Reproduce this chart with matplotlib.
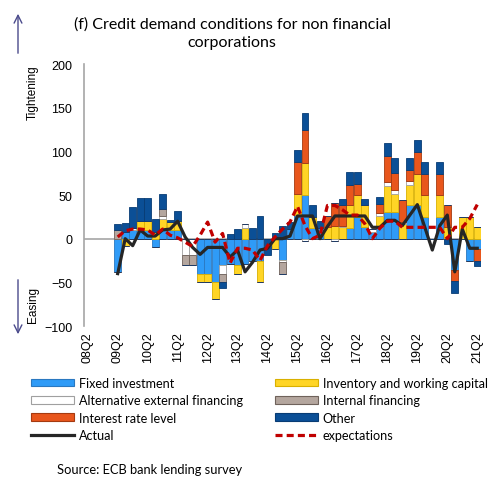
import numpy as np
import matplotlib
matplotlib.use("Agg")
import matplotlib.pyplot as plt
from matplotlib.patches import Patch
from matplotlib.lines import Line2D

# =========================
# DATA (net percentages, 09Q2 .. 21Q2)
# =========================

quarters = [f"{y:02d}Q{q}" for y in range(8, 22) for q in range(1, 5)]
quarters = quarters[quarters.index("08Q2"):quarters.index("21Q2") + 1]
first_quarter = "09Q2"
tick_labels = [q for q in quarters if q.endswith("Q2")]

fixed_investment = [-38, 8, 10, 10, 10, -10, 10, 10, 10, 0, 0, -40, -40, -50, -30, -29,
                    -30, -29, -26, -26, 0, 0, -24, 11, 27, 50, 12, 12, 0, 0, 0, 12, 25,
                    13, 8, 15, 30, 30, 0, 38, 38, 25, 0, 25, 0, -36, 0, -25, -12]
inventory = [0, -8, 0, 10, 10, 8, 12, 9, 10, 0, 0, -10, -10, -19, 0, 0,
             -10, 12, 0, -24, 0, -12, 0, 0, 24, 37, 13, 0, 13, 14, 13, 26, 25,
             25, 0, 11, 30, 21, 17, 24, 36, 25, 0, 25, 13, 0, 25, 25, 13]
alt_external = [0, 0, 2, 0, 0, 0, 4, 0, 0, -19, -19, 0, 0, 0, -10, 0,
                0, 5, 0, 0, 0, 0, -3, 0, 0, -3, 0, 0, 0, -3, 2, 0, 0,
                0, 3, 3, 5, 5, 2, 4, 0, 0, 0, 0, 0, 0, 0, 0, 0]
internal_fin = [10, 0, 0, 0, 0, 0, 8, 0, 0, -11, -11, 0, 0, 0, -10, 0,
                0, 0, 0, 0, 0, 0, -13, 0, 0, 0, 0, 0, 0, 0, 0, 0, 0,
                0, 0, 0, 0, 0, 0, 0, 0, 0, 0, 0, 0, 0, 0, 0, 0]
interest_rate = [0, 0, 0, 0, 0, 0, 0, 0, 0, 0, 0, 0, 0, 0, 0, 0,
                 0, 0, 0, 0, 0, 0, 0, 0, 37, 37, 0, 0, 13, 27, 24, 23, 13,
                 0, 0, 11, 30, 19, 25, 13, 25, 24, 0, 24, 25, -13, 0, 0, -13]
other = [7, 10, 24, 27, 26, 15, 17, 2, 12, 0, 0, 0, 0, 0, -6, 5,
         11, 0, 12, 26, -19, 6, 14, 8, 14, 20, 13, 8, 0, 0, 6, 15, 13,
         7, 0, 8, 15, 17, 0, 13, 14, 14, 0, 14, -6, -13, 0, 0, -6]
actual = [-40, 0, -8, 10, 3, 3, 10, 11, 20, 2, -10, -18, -10, -10, -10, -21,
          -13, -38, -27, -13, -11, 0, 0, 3, 26, 26, 26, 0, 14, 26, 26, 26, 26,
          26, 13, 13, 21, 21, 15, 27, 39, 13, -13, 15, 27, -38, 11, -11, -11]
expectations = [2, 9, 11, 11, 10, 4, 11, 4, 1, -4, -9, 4, 19, -4, 6, -28,
                -11, -11, -13, -25, -8, 2, 11, 19, 37, 15, 0, 4, 38, 38, 33, 27, 27,
                17, 0, 12, 20, 20, 13, 13, 13, 13, 13, 13, 0, 13, 13, 23, 39]

factor_names = ["Fixed investment", "Inventory and working capital",
                "Alternative external financing", "Internal financing",
                "Interest rate level", "Other"]
factor_values = [fixed_investment, inventory, alt_external, internal_fin,
                 interest_rate, other]
factor_colors = ["#2F9BF7", "#FFD526", "#FFFFFF", "#B4A69E", "#E8561C", "#0B4F96"]
factor_edges = ["#2A78C0", "#D9B000", "#A0A0A0", "#6F625B", "#A53A10", "#083C74"]

# =========================
# PLOT
# =========================

fig = plt.figure(figsize=(4.95, 4.85), dpi=100)
ax = fig.add_axes([84 / 495, 1 - 327 / 485, (481 - 84) / 495, (327 - 65) / 485])

start = quarters.index(first_quarter)
x = np.arange(start, start + len(actual))

pos_bottom = np.zeros(len(x))
neg_bottom = np.zeros(len(x))
for vals, col, edge in zip(factor_values, factor_colors, factor_edges):
    v = np.array(vals, dtype=float)
    pos = np.where(v > 0, v, 0)
    neg = np.where(v < 0, v, 0)
    ax.bar(x, pos, bottom=pos_bottom, width=0.92, color=col, edgecolor=edge,
           linewidth=0.6, zorder=2)
    ax.bar(x, neg, bottom=neg_bottom, width=0.92, color=col, edgecolor=edge,
           linewidth=0.6, zorder=2)
    pos_bottom += pos
    neg_bottom += neg

ax.axhline(0, color="#A6A6A6", linewidth=1.2, zorder=1)

ax.plot(x, actual, color="#262626", linewidth=2.3, zorder=4)
ax.plot(x, expectations, color="#C00000", linewidth=2.3, linestyle=(0, (2.2, 1.3)),
        zorder=5)

ax.set_xlim(-0.5, len(quarters) - 0.5)
ax.set_ylim(-100, 200)
ax.set_yticks(range(-100, 201, 50))
ax.set_xticks([quarters.index(q) for q in tick_labels])
ax.set_xticklabels(tick_labels, rotation=90, fontsize=9, family="Liberation Sans")
for lab in ax.get_yticklabels():
    lab.set_family("Liberation Sans")
ax.tick_params(axis="y", length=0, pad=8.5, labelsize=9)
ax.tick_params(axis="x", length=0, pad=4)

for s in ["top", "right", "bottom"]:
    ax.spines[s].set_visible(False)
ax.spines["left"].set_color("#A6A6A6")
ax.spines["left"].set_linewidth(1.2)

# title
fig.text(232 / 495, 1 - 33.5 / 485,
         "(f) Credit demand conditions for non financial\ncorporations",
         ha="center", va="center", fontsize=11.5, family="Lato", linespacing=1.4)

# tightening / easing
fig.text(33 / 495, 1 - 93 / 485, "Tightening", rotation=90, ha="center", va="center",
         fontsize=8.5, family="Liberation Sans")
fig.text(33 / 495, 1 - 305 / 485, "Easing", rotation=90, ha="center", va="center",
         fontsize=8.5, family="Liberation Sans")
arrow_kw = dict(arrowstyle="->", color="#4B4B8C", lw=1.0, mutation_scale=14)
ax.annotate("", xy=(18, 485 - 12), xytext=(18, 485 - 57), xycoords="figure pixels",
            textcoords="figure pixels", arrowprops=arrow_kw, annotation_clip=False)
ax.annotate("", xy=(18, 485 - 338), xytext=(18, 485 - 278), xycoords="figure pixels",
            textcoords="figure pixels", arrowprops=arrow_kw, annotation_clip=False)

# legend
patches = [Patch(facecolor=c, edgecolor=e, linewidth=0.8, label=n)
           for n, c, e in zip(factor_names, factor_colors, factor_edges)]
line_actual = Line2D([], [], color="#262626", linewidth=2.3, label="Actual")
line_exp = Line2D([], [], color="#C00000", linewidth=2.3, linestyle=(0, (2.2, 1.3)),
                  label="expectations")
handles = [patches[0], patches[2], patches[4], line_actual,
           patches[1], patches[3], patches[5], line_exp]
fig.legend(handles=handles, ncol=2, loc="upper left",
           bbox_to_anchor=(31 / 495, 1 - 378 / 485), frameon=False,
           prop={"family": "Lato", "size": 9.1}, handlelength=3.4, handleheight=0.55,
           handletextpad=0.4, labelspacing=0.42, columnspacing=2.5,
           borderpad=0, borderaxespad=0)

fig.text(57 / 495, 1 - 470 / 485, "Source: ECB bank lending survey",
         ha="left", va="center", fontsize=9.3, family="Lato")

fig.savefig("out.png", dpi=100)
